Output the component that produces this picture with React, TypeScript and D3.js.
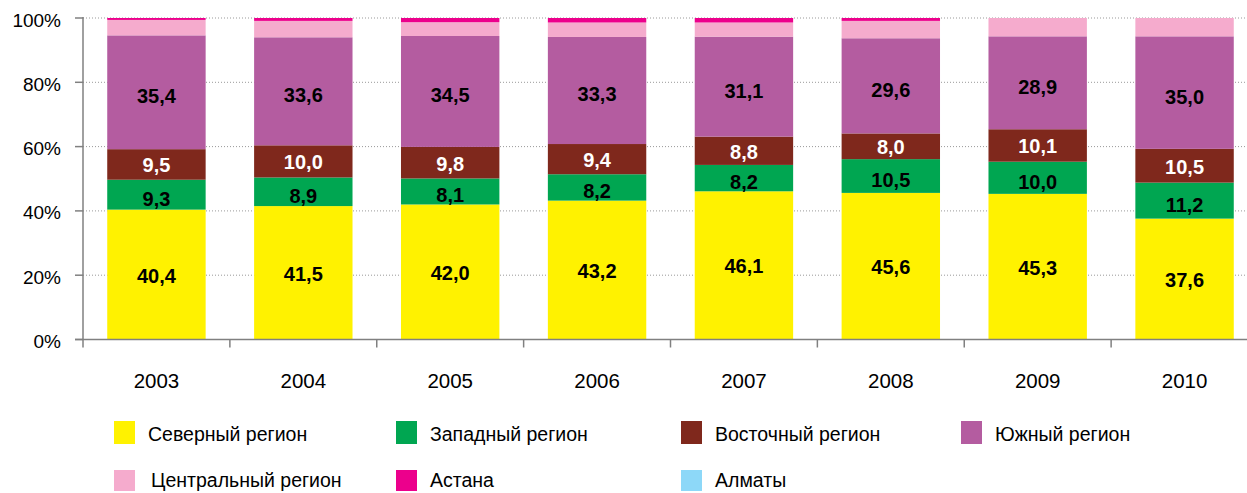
import React from 'react';
import * as d3 from 'd3';

const years = ['2003', '2004', '2005', '2006', '2007', '2008', '2009', '2010'];
const north = [40.4, 41.5, 42.0, 43.2, 46.1, 45.6, 45.3, 37.6];
const west = [9.3, 8.9, 8.1, 8.2, 8.2, 10.5, 10.0, 11.2];
const east = [9.5, 10.0, 9.8, 9.4, 8.8, 8.0, 10.1, 10.5];
const south = [35.4, 33.6, 34.5, 33.3, 31.1, 29.6, 28.9, 35.0];
const central = [4.8, 5.1, 4.3, 4.5, 4.4, 5.4, 5.7, 5.7];
const astana = [0.6, 0.9, 1.3, 1.4, 1.4, 0.9, 0, 0];
const almaty = [0, 0, 0, 0, 0, 0, 0, 0];
const yTicks = [0, 20, 40, 60, 80, 100];

const series = [
  { key: 'north', name: 'Северный регион', values: north, color: '#fff200', label: '#000', dy: 1 },
  { key: 'west', name: 'Западный регион', values: west, color: '#00a651', label: '#000', dy: 4 },
  { key: 'east', name: 'Восточный регион', values: east, color: '#7f281c', label: '#fff', dy: 1 },
  { key: 'south', name: 'Южный регион', values: south, color: '#b45ca0', label: '#000', dy: 4 },
  { key: 'central', name: 'Центральный регион', values: central, color: '#f5abcd', label: null, dy: 0 },
  { key: 'astana', name: 'Астана', values: astana, color: '#ec008c', label: null, dy: 0 },
  { key: 'almaty', name: 'Алматы', values: almaty, color: '#8dd8f8', label: null, dy: 0 },
];

const width = 1247;
const height = 493;
const left = 83;
const top = 18;
const bottom = 339.5;

const fmt = (v: number) => v.toFixed(1).replace('.', ',');

export default function App() {
  const x = d3.scaleBand().domain(years).range([left, 1258]).paddingInner(0.33).paddingOuter(0.165);
  const y = d3.scaleLinear().domain([0, 100]).range([bottom, top]);

  const rows = years.map((yr, i) => {
    const r: any = { year: yr };
    series.forEach((s) => (r[s.key] = s.values[i]));
    return r;
  });
  const stacked = d3.stack().keys(series.map((s) => s.key))(rows);

  const boundaries = years.map((yr) => (x(yr) as number) - x.step() * x.paddingInner() / 2);
  boundaries[0] = left;

  const legendCols = [114, 396, 681, 961];
  const legendRows = [421, 470];
  const legendTextDy = [13, 10];

  return (
    <div style={{ position: 'absolute', left: 0, top: 0 }}>
      <svg width={width} height={height} style={{ display: 'block', fontFamily: 'Liberation Sans, Arial, sans-serif' }}>
        {yTicks.filter((t) => t > 0).map((t) => (
          <line key={'g' + t} x1={left} x2={width} y1={y(t)} y2={y(t)} stroke="#999" strokeWidth={1} strokeDasharray="1 2" />
        ))}
        {stacked.map((layer, li) => (
          <g key={layer.key} fill={series[li].color}>
            {layer.map((d, i) => (
              <rect
                key={i}
                x={x(years[i])}
                width={x.bandwidth()}
                y={y(d[1])}
                height={Math.max(0, y(d[0]) - y(d[1]))}
              />
            ))}
          </g>
        ))}
        {stacked.map((layer, li) =>
          series[li].label
            ? layer.map((d, i) => (
                <text
                  key={layer.key + i}
                  x={(x(years[i]) as number) + x.bandwidth() / 2}
                  y={(y(d[0]) + y(d[1])) / 2 + series[li].dy}
                  textAnchor="middle"
                  dominantBaseline="central"
                  fontSize={20}
                  fontWeight="bold"
                  fill={series[li].label as string}
                >
                  {fmt(series[li].values[i])}
                </text>
              ))
            : null
        )}
        <line x1={left} x2={left} y1={top - 1} y2={bottom} stroke="#808080" strokeWidth={1.5} />
        <line x1={left - 8} x2={width} y1={bottom} y2={bottom} stroke="#808080" strokeWidth={1.5} />
        {yTicks.map((t) => (
          <g key={'t' + t}>
            <line x1={left - 8} x2={left} y1={y(t)} y2={y(t)} stroke="#808080" strokeWidth={1.5} />
            <text x={61} y={y(t) + 2} textAnchor="end" dominantBaseline="central" fontSize={19} fill="#000">
              {t}%
            </text>
          </g>
        ))}
        {boundaries.map((b, i) => (
          <line key={'xt' + i} x1={b} x2={b} y1={bottom} y2={bottom + 8} stroke="#808080" strokeWidth={1.5} />
        ))}
        {years.map((yr) => (
          <text key={yr} x={(x(yr) as number) + x.bandwidth() / 2} y={380} textAnchor="middle" dominantBaseline="central" fontSize={20.5} fill="#000">
            {yr}
          </text>
        ))}
        {series.map((s, i) => {
          const row = Math.floor(i / 4);
          const cx = legendCols[i % 4];
          const cy = legendRows[row];
          return (
            <g key={'l' + s.key}>
              <rect x={cx} y={cy} width={21} height={row === 0 ? 23 : 21} fill={s.color} />
              <text x={cx + 34 + (i === 4 ? 3 : 0)} y={cy + legendTextDy[row]} dominantBaseline="central" fontSize={19.5} fill="#000">
                {s.name}
              </text>
            </g>
          );
        })}
      </svg>
    </div>
  );
}
